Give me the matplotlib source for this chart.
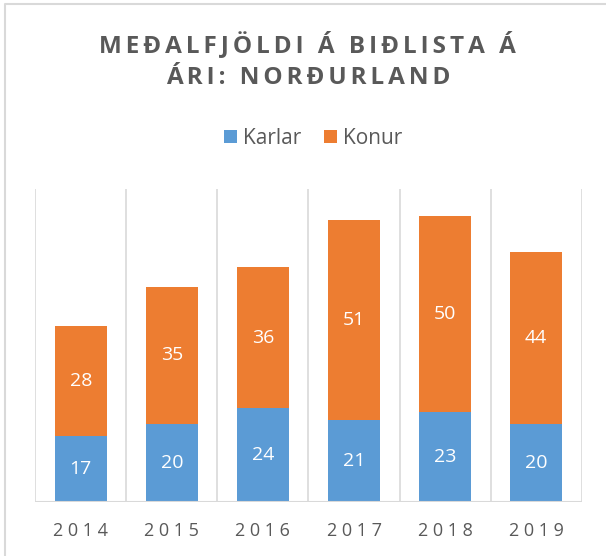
import numpy as np
import matplotlib
matplotlib.use('Agg')
import matplotlib.pyplot as plt
from matplotlib.lines import Line2D

years = ['2014', '2015', '2016', '2017', '2018', '2019']
karlar = [17, 20, 24, 21, 23, 20]
konur = [28, 35, 36, 51, 50, 44]
title = 'MEÐALFJÖLDI Á BIÐLISTA Á\nÁRI: NORÐURLAND'

BLUE = '#5B9BD5'
ORANGE = '#ED7D31'
GREY = '#595959'
GRID = '#D9D9D9'
FONT = ['Open Sans', 'DejaVu Sans']

def spaced(s, sp='\u200a'):
    return '\n'.join(sp.join(line) for line in s.split('\n'))

fig = plt.figure(figsize=(6.06, 5.56), dpi=100)
# chart frame: only top and left edges are visible in the screenshot
fig.lines.append(Line2D([0.009, 0.009, 1.0], [0.0, 0.993, 0.993], transform=fig.transFigure,
                        color=GRID, lw=1.5))
ax = fig.add_axes([0.058, 0.097, 0.902, 0.563])

x = np.arange(len(years))
ax.bar(x, karlar, width=0.57, color=BLUE, label='Karlar')
ax.bar(x, konur, width=0.57, bottom=karlar, color=ORANGE, label='Konur')

for i in range(len(years)):
    ax.text(x[i], karlar[i] / 2, str(karlar[i]), ha='center', va='center',
            color='white', fontsize=14, family=FONT)
    ax.text(x[i], karlar[i] + konur[i] / 2, str(konur[i]), ha='center', va='center',
            color='white', fontsize=14, family=FONT)

ax.set_xlim(-0.5, len(years) - 0.5)
ax.set_ylim(0, 80)
for b in np.arange(-0.5, len(years), 1.0):
    ax.axvline(b, color=GRID, lw=1.2, zorder=0)
for s in ax.spines.values():
    s.set_visible(False)
ax.axhline(0, color=GRID, lw=1.5)
ax.set_yticks([])
ax.set_xticks(x)
ax.set_xticklabels([spaced(y, ' ') for y in years], fontsize=13, color=GREY, family=FONT)
ax.tick_params(axis='x', length=0, pad=14)

fig.text(0.508, 0.891, spaced(title, '\u2006'), ha='center', va='center', fontsize=17.5,
         fontweight='bold', color=GREY, family=FONT, linespacing=1.45)

handles, labels = ax.get_legend_handles_labels()
fig.legend(handles, labels, loc='center', bbox_to_anchor=(0.517, 0.751), ncol=2, frameon=False,
           prop={'family': FONT, 'size': 15}, labelcolor=GREY, handlelength=0.6,
           handleheight=0.6, handletextpad=0.3, columnspacing=1.1)

fig.savefig('out.png', dpi=100)
